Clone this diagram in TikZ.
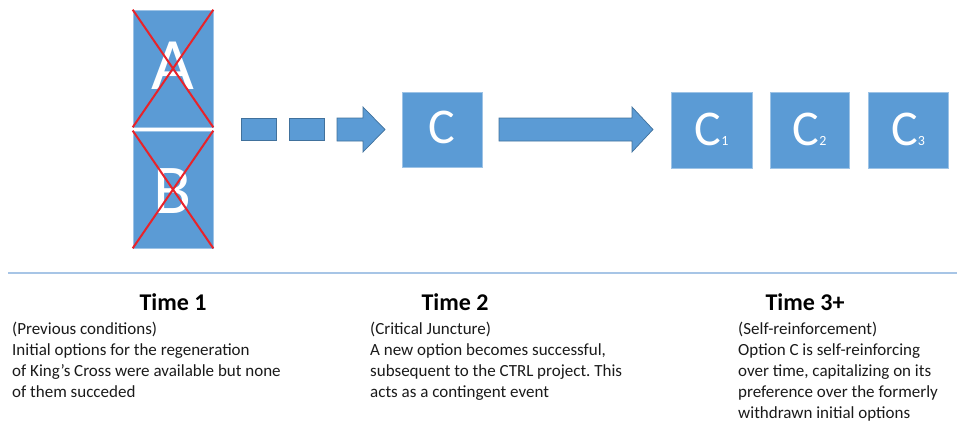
\documentclass[tikz,border=0pt]{standalone}
\usepackage{fontspec}
\setmainfont{Carlito}
\frenchspacing
\definecolor{boxblue}{HTML}{5B9BD5}
\definecolor{edgeblue}{HTML}{41719C}
\definecolor{xred}{HTML}{E8232A}
\definecolor{rule}{HTML}{A7C5E6}
\definecolor{bodytext}{HTML}{1A1A1A}
\begin{document}
\begin{tikzpicture}[x=1pt,y=-1pt,
  optbox/.style={fill=boxblue,draw=boxblue!60!white,line width=0.6pt,inner sep=0pt,text=white},
  blockarrow/.style={fill=boxblue,draw=edgeblue,line width=0.7pt,line join=miter},
  cross/.style={draw=xred,line width=2pt},
  title/.style={anchor=base,font=\bfseries\fontsize{24}{28}\selectfont},
  body/.style={anchor=north west,align=left,inner sep=0pt,text=bodytext,font=\fontsize{17}{21}\selectfont}]
\useasboundingbox (0,0) rectangle (957,425);
% option boxes A and B
\node[optbox,minimum width=80pt,minimum height=117pt] (A) at (173,68.5) {};
\node[optbox,minimum width=80pt,minimum height=117pt] (B) at (173,189.5) {};
\node[text=white,font=\fontsize{74}{74}\selectfont,anchor=base] (Alab) at (173,90) {A};
\node[text=white,font=\fontsize{70}{70}\selectfont,anchor=base] (Blab) at (173,213) {B};
\draw[cross] (A.north west) -- (A.south east);
\draw[cross] (A.north east) -- (A.south west);
\draw[cross] (B.north west) -- (B.south east);
\draw[cross] (B.north east) -- (B.south west);
% dashed block arrow
\node[optbox,draw=edgeblue,line width=0.7pt,minimum width=35pt,minimum height=22pt] (d1) at (258.5,129) {};
\node[optbox,draw=edgeblue,line width=0.7pt,minimum width=35pt,minimum height=22pt] (d2) at (306.5,129) {};
\draw[blockarrow] (337,118) -- (363,118) -- (363,107) -- (385,129.5) -- (363,152) -- (363,141) -- (337,141) -- cycle;
% C box
\node[optbox,minimum width=80pt,minimum height=75pt] (C) at (442,129.5) {};
\node[text=white,font=\fontsize{50}{50}\selectfont,anchor=base] (Clab) at (442,143) {C};
% long block arrow
\draw[blockarrow] (499,118) -- (632,118) -- (632,107) -- (653,129.5) -- (632,152) -- (632,141) -- (499,141) -- cycle;
% C1 C2 C3
\node[optbox,minimum width=81pt,minimum height=76pt] (C1) at (711.5,130) {};
\node[optbox,minimum width=79pt,minimum height=76pt] (C2) at (809.5,130) {};
\node[optbox,minimum width=80pt,minimum height=76pt] (C3) at (908,130) {};
\node[text=white,anchor=base,inner sep=0pt] (C1lab) at (711.5,145) {\fontsize{50}{50}\selectfont C\fontsize{14}{14}\selectfont 1};
\node[text=white,anchor=base,inner sep=0pt] (C2lab) at (809.5,145) {\fontsize{50}{50}\selectfont C\fontsize{14}{14}\selectfont 2};
\node[text=white,anchor=base,inner sep=0pt] (C3lab) at (908,145) {\fontsize{50}{50}\selectfont C\fontsize{14}{14}\selectfont 3};
% separator rule
\coordinate (rl) at (8,273);
\coordinate (rr) at (957,273);
\draw[rule,line width=1.2pt] (rl) -- (rr);
% titles
\node[title] (t1) at (173,310) {Time 1};
\node[title] (t2) at (455,310) {Time 2};
\node[title] (t3) at (805,310) {Time 3+};
% descriptions
\node[body] (b1) at (12,322) {(Previous conditions)\\Initial options for the regeneration\\of King’s Cross were available but none\\of them succeded};
\node[body] (b2) at (370,322) {(Critical Juncture)\\A new option becomes successful,\\subsequent to the CTRL project. This\\acts as a contingent event};
\node[body] (b3) at (738,322) {(Self-reinforcement)\\Option C is self-reinforcing\\over time, capitalizing on its\\preference over the formerly\\withdrawn initial options};
\end{tikzpicture}
\end{document}
